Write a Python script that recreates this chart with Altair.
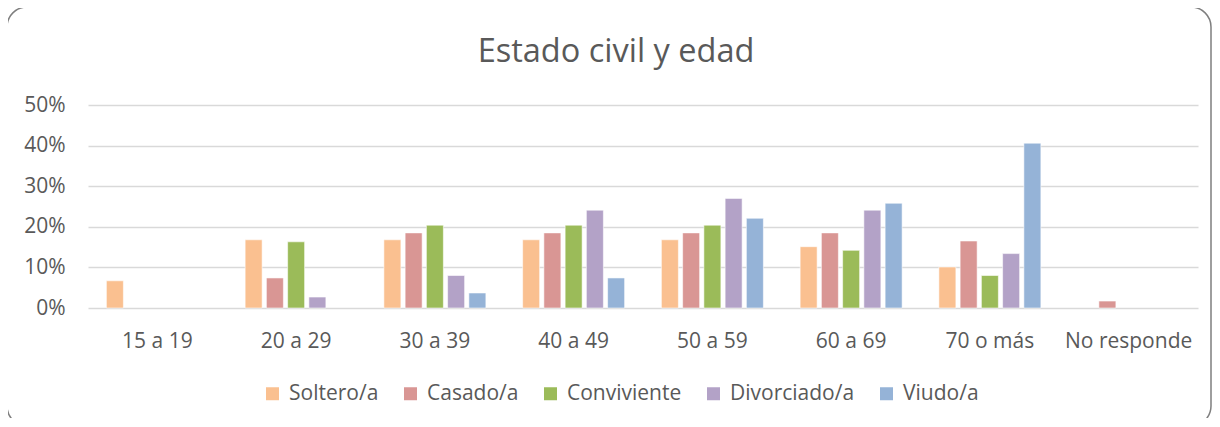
import altair as alt
import pandas as pd

title_text = "Estado civil y edad"
categories = ["15 a 19", "20 a 29", "30 a 39", "40 a 49", "50 a 59", "60 a 69", "70 o más", "No responde"]
series = ["Soltero/a", "Casado/a", "Conviviente", "Divorciado/a", "Viudo/a"]
colors = ["#FAC090", "#D99694", "#9BBB59", "#B3A2C7", "#95B3D7"]

soltero = [0.067, 0.168, 0.168, 0.168, 0.168, 0.151, 0.101, 0.0]
casado = [0.0, 0.074, 0.185, 0.185, 0.185, 0.185, 0.165, 0.017]
conviviente = [0.0, 0.163, 0.204, 0.204, 0.204, 0.142, 0.080, 0.0]
divorciado = [0.0, 0.027, 0.080, 0.241, 0.270, 0.241, 0.134, 0.0]
viudo = [0.0, 0.0, 0.037, 0.074, 0.221, 0.258, 0.406, 0.0]

values = [soltero, casado, conviviente, divorciado, viudo]
rows = []
for s, vals in zip(series, values):
    for c, v in zip(categories, vals):
        rows.append({"Edad": c, "Estado": s, "Valor": v})
df = pd.DataFrame(rows)

FONT = "Open Sans"
TXT = "#595959"

bars = alt.Chart(df).transform_filter("datum.Valor > 0").mark_bar(
    stroke="white", strokeWidth=0.8, strokeOpacity=0.7
).encode(
    x=alt.X("Edad:N", sort=categories,
            scale=alt.Scale(domain=categories, paddingInner=0.265, paddingOuter=0.1325),
            axis=alt.Axis(title=None, labelAngle=0, ticks=False, tickSize=0, domain=False, grid=False,
                          labelFontSize=21, labelFont=FONT, labelColor=TXT, labelPadding=22)),
    xOffset=alt.XOffset("Estado:N", sort=series,
                        scale=alt.Scale(domain=series, paddingInner=0.2, paddingOuter=0)),
    y=alt.Y("Valor:Q", scale=alt.Scale(domain=[0, 0.5], nice=False),
            axis=alt.Axis(title=None, format="%", values=[0, 0.1, 0.2, 0.3, 0.4, 0.5],
                          ticks=False, tickSize=0, domain=False, gridColor="#D9D9D9", gridWidth=1.4,
                          labelFontSize=21, labelFont=FONT, labelColor=TXT, labelPadding=23)),
    color=alt.Color("Estado:N", sort=series,
                    scale=alt.Scale(domain=series, range=colors),
                    legend=alt.Legend(title=None, orient="none", direction="horizontal",
                                      legendX=174, legendY=278, padding=0,
                                      symbolType="square", symbolSize=169, symbolStrokeWidth=0,
                                      symbolOpacity=1,
                                      labelFontSize=21, labelFont=FONT, labelColor=TXT,
                                      labelOffset=6, columnPadding=21)),
)

title_df = pd.DataFrame({"t": [title_text]})
title = alt.Chart(title_df).mark_text(
    font=FONT, fontSize=32.5, color=TXT, align="center", baseline="alphabetic"
).encode(text="t:N", x=alt.value(528), y=alt.value(-43))

frame_df = pd.DataFrame({"f": [1]})
frame = alt.Chart(frame_df).mark_rect(
    fill=None, fillOpacity=0, stroke="#7F7F7F", strokeWidth=1.5, cornerRadius=20
).encode(x=alt.value(-81), x2=alt.value(1123), y=alt.value(-98), y2=alt.value(321))

chart = alt.layer(frame, bars, title).properties(
    width=1110, height=203,
    padding={"left": 80, "top": 97, "right": 14, "bottom": 110},
    autosize=alt.AutoSizeParams(type="none"),
).configure(font=FONT).configure_view(stroke=None)

chart.save("out.html", embed_options={"renderer": "svg", "actions": False})
